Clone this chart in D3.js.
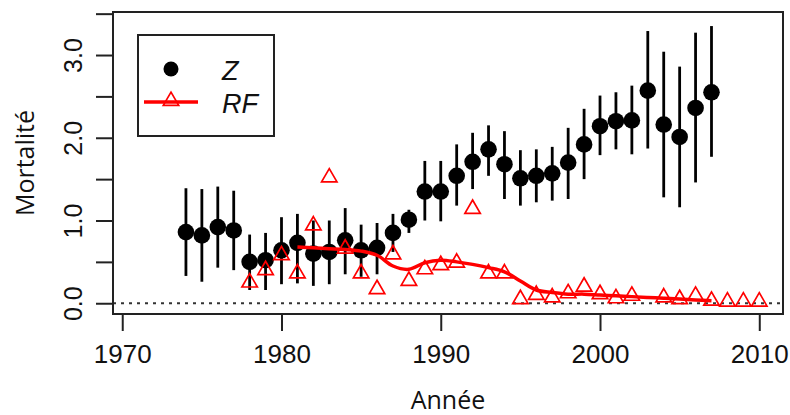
<!DOCTYPE html>
<html>
<head>
<meta charset="utf-8">
<script src="https://cdn.jsdelivr.net/npm/d3@7"></script>
<style>
  body { margin: 0; background: #fff; }
  svg { display: block; }
</style>
</head>
<body>
<div id="chart"></div>
<script>
// Z estimates with their error bars
const zYears = [1974, 1975, 1976, 1977, 1978, 1979, 1980, 1981, 1982, 1983, 1984, 1985,
  1986, 1987, 1988, 1989, 1990, 1991, 1992, 1993, 1994, 1995, 1996, 1997, 1998, 1999,
  2000, 2001, 2002, 2003, 2004, 2005, 2006, 2007];
const zMean = [0.86, 0.82, 0.92, 0.88, 0.50, 0.52, 0.64, 0.73, 0.60, 0.62, 0.76, 0.64,
  0.67, 0.85, 1.01, 1.35, 1.35, 1.54, 1.71, 1.86, 1.68, 1.51, 1.54, 1.57, 1.70, 1.92,
  2.14, 2.20, 2.21, 2.57, 2.16, 2.01, 2.36, 2.55];
const zHigh = [1.39, 1.38, 1.41, 1.36, 0.83, 0.85, 1.04, 1.08, 1.00, 1.00, 1.15, 0.95,
  0.97, 1.08, 1.13, 1.72, 1.72, 1.92, 2.06, 2.15, 2.08, 1.85, 1.86, 1.89, 2.12, 2.35,
  2.51, 2.55, 2.63, 3.29, 3.04, 2.86, 3.27, 3.35];
const zLow = [0.33, 0.26, 0.43, 0.40, 0.16, 0.16, 0.23, 0.24, 0.21, 0.23, 0.35, 0.32,
  0.35, 0.62, 0.85, 1.00, 0.99, 1.18, 1.38, 1.54, 1.26, 1.18, 1.22, 1.24, 1.26, 1.50,
  1.79, 1.86, 1.80, 1.87, 1.28, 1.16, 1.46, 1.77];

// RF yearly values (2003 missing)
const rfYears = [1978, 1979, 1980, 1981, 1982, 1983, 1984, 1985, 1986, 1987, 1988, 1989,
  1990, 1991, 1992, 1993, 1994, 1995, 1996, 1997, 1998, 1999, 2000, 2001, 2002, 2003,
  2004, 2005, 2006, 2007, 2008, 2009, 2010];
const rfVals = [0.25, 0.40, 0.58, 0.36, 0.94, 1.52, 0.66, 0.36, 0.17, 0.59, 0.27, 0.41,
  0.46, 0.49, 1.14, 0.36, 0.36, 0.05, 0.10, 0.07, 0.12, 0.20, 0.11, 0.06, 0.09, null,
  0.07, 0.05, 0.09, 0.03, 0.02, 0.02, 0.02];

// smoothed RF curve
const smYears = [1981, 1982, 1983, 1984, 1985, 1986, 1987, 1988, 1989, 1990, 1991, 1992,
  1993, 1994, 1995, 1996, 1997, 1998, 1999, 2000, 2001, 2002, 2003, 2004, 2005, 2006, 2007];
const smVals = [0.68, 0.67, 0.66, 0.65, 0.63, 0.58, 0.45, 0.41, 0.49, 0.52, 0.50, 0.47,
  0.43, 0.38, 0.27, 0.16, 0.13, 0.11, 0.11, 0.10, 0.09, 0.08, 0.07, 0.06, 0.05, 0.04, 0.03];

const xTicks = [1970, 1980, 1990, 2000, 2010];
const yTicks = [0, 0.5, 1, 1.5, 2, 2.5, 3, 3.5];

const W = 790, H = 415;
const box = { left: 113, right: 783, top: 12, bottom: 314 };
const tickFont = '"Liberation Sans", Arial, sans-serif';
const titleFont = '"Open Sans", "Noto Sans", sans-serif';

const svg = d3.select('#chart').append('svg')
  .attr('width', W).attr('height', H);

const x = d3.scaleLinear().domain([1969.42, 2011.49]).range([box.left, box.right]);
const y = d3.scaleLinear().domain([-0.13, 3.52]).range([box.bottom, box.top]);

// zero reference
svg.append('line')
  .attr('x1', box.left).attr('x2', box.right)
  .attr('y1', y(0)).attr('y2', y(0))
  .attr('stroke', '#333').attr('stroke-width', 2).attr('stroke-dasharray', '3,5');

// axes
const xAxis = svg.append('g').attr('transform', `translate(0,${box.bottom})`)
  .call(d3.axisBottom(x).tickValues(xTicks).tickSize(17).tickPadding(14).tickFormat(d3.format('d')));
const yAxis = svg.append('g').attr('transform', `translate(${box.left},0)`)
  .call(d3.axisLeft(y).tickValues(yTicks).tickSize(17)
    .tickFormat((d) => (d % 1 === 0 ? d3.format('.1f')(d) : '')));

[xAxis, yAxis].forEach((g) => {
  g.select('.domain').remove();
  g.selectAll('line').attr('stroke', '#222').attr('stroke-width', 2);
  g.selectAll('text').attr('fill', '#111').attr('font-family', tickFont);
});
xAxis.selectAll('text').attr('font-size', 26);
yAxis.selectAll('text')
  .attr('font-size', 25)
  .attr('transform', 'rotate(-90)')
  .attr('x', 0).attr('y', -31).attr('dy', null)
  .attr('text-anchor', 'middle');

// box
svg.append('rect')
  .attr('x', box.left).attr('y', box.top)
  .attr('width', box.right - box.left).attr('height', box.bottom - box.top)
  .attr('fill', 'none').attr('stroke', '#222').attr('stroke-width', 2);

// axis titles
svg.append('text')
  .attr('x', (box.left + box.right) / 2).attr('y', 409)
  .attr('text-anchor', 'middle').attr('font-family', titleFont).attr('font-size', 25)
  .attr('fill', '#111').text('Année');
svg.append('text')
  .attr('transform', `translate(34,${(box.top + box.bottom) / 2}) rotate(-90)`)
  .attr('text-anchor', 'middle').attr('font-family', titleFont).attr('font-size', 25)
  .attr('fill', '#111').text('Mortalité');

// Z error bars and points
const zData = zYears.map((yr, i) => ({ yr, m: zMean[i], lo: zLow[i], hi: zHigh[i] }));
svg.append('g').selectAll('line').data(zData).join('line')
  .attr('x1', (d) => x(d.yr)).attr('x2', (d) => x(d.yr))
  .attr('y1', (d) => y(d.lo)).attr('y2', (d) => y(d.hi))
  .attr('stroke', '#000').attr('stroke-width', 2.8);
svg.append('g').selectAll('circle').data(zData).join('circle')
  .attr('cx', (d) => x(d.yr)).attr('cy', (d) => y(d.m)).attr('r', 8.3)
  .attr('fill', '#000');

// RF smooth line
const smData = smYears.map((yr, i) => ({ yr, v: smVals[i] }));
svg.append('path')
  .attr('d', d3.line().x((d) => x(d.yr)).y((d) => y(d.v)).curve(d3.curveCatmullRom)(smData))
  .attr('fill', 'none').attr('stroke', '#ff0000').attr('stroke-width', 3.5)
  .attr('stroke-linejoin', 'round');

// RF triangles
const triR = 8.9;
const triPath = (r) => `M0,${-r}L${0.866 * r},${r / 2}L${-0.866 * r},${r / 2}Z`;
const rfData = rfYears.map((yr, i) => ({ yr, v: rfVals[i] })).filter((d) => d.v !== null);
svg.append('g').selectAll('path').data(rfData).join('path')
  .attr('transform', (d) => `translate(${x(d.yr)},${y(d.v)})`)
  .attr('d', triPath(triR))
  .attr('fill', 'none').attr('stroke', '#ff0000').attr('stroke-width', 1.7);

// legend
const lg = svg.append('g');
lg.append('rect').attr('x', 138).attr('y', 35).attr('width', 136).attr('height', 101)
  .attr('fill', '#fff').attr('stroke', '#222').attr('stroke-width', 2);
lg.append('circle').attr('cx', 171).attr('cy', 69).attr('r', 7.5).attr('fill', '#000');
lg.append('line').attr('x1', 144).attr('x2', 198).attr('y1', 102).attr('y2', 102)
  .attr('stroke', '#ff0000').attr('stroke-width', 3.5);
lg.append('path').attr('transform', 'translate(171,101)').attr('d', triPath(triR))
  .attr('fill', 'none').attr('stroke', '#ff0000').attr('stroke-width', 1.7);
lg.append('text').attr('x', 222).attr('y', 80).text('Z')
  .attr('font-family', tickFont).attr('font-style', 'italic').attr('font-size', 27).attr('fill', '#111');
lg.append('text').attr('x', 222).attr('y', 113).text('RF')
  .attr('font-family', tickFont).attr('font-style', 'italic').attr('font-size', 27).attr('fill', '#111');
</script>
</body>
</html>
